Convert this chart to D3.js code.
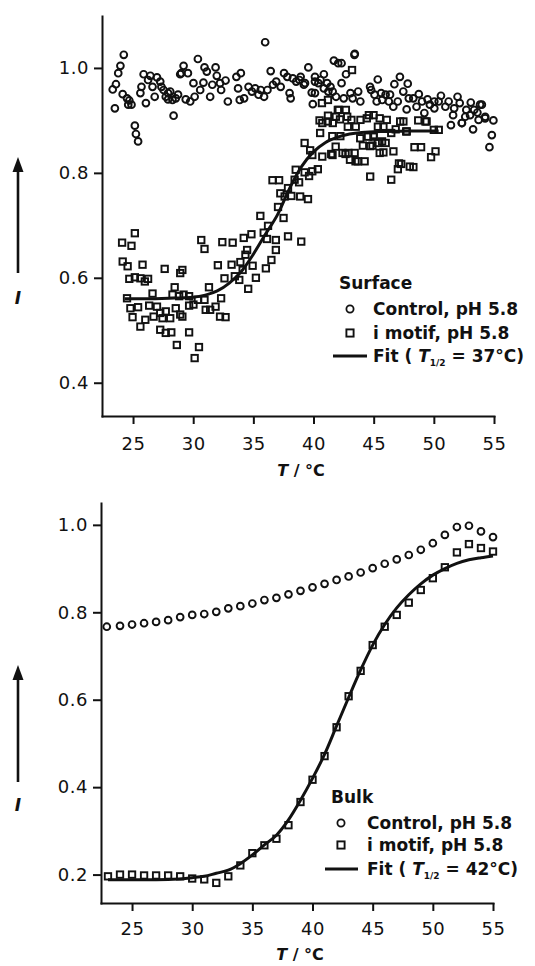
<!DOCTYPE html>
<html>
<head>
<meta charset="utf-8">
<script src="https://cdn.jsdelivr.net/npm/d3@7"></script>
<style>
  body { margin: 0; background: #fff; }
  svg { display: block; }
  text { font-family: "DejaVu Sans", Verdana, sans-serif; fill: #111; }
</style>
</head>
<body>
<svg id="chart" width="535" height="966"></svg>
<script>
// values: [T in °C, I]
const surfaceControl = [
  [24.23,1.025],[23.95,1.004],[23.77,0.99],[23.58,0.969],[23.31,0.959],[23.49,0.923],[24.14,0.95],[24.5,0.942],
  [24.69,0.938],[24.87,0.93],[24.6,0.93],[25.15,0.89],[25.24,0.874],[25.42,0.86],[25.61,0.952],[25.7,0.964],
  [25.88,0.988],[26.07,0.933],[26.25,0.977],[26.44,0.985],[26.62,0.964],[26.8,0.945],[26.99,0.982],[27.26,0.974],
  [27.36,0.964],[27.54,0.958],[27.72,0.945],[27.91,0.952],[28.09,0.955],[27.91,0.94],[28.28,0.939],[28.37,0.909],
  [28.55,0.942],[28.74,0.949],[28.92,0.988],[29.01,0.99],[29.2,1.004],[29.56,0.99],[29.38,0.94],[29.75,0.936],
  [30.02,0.971],[30.12,0.945],[30.39,1.017],[30.58,0.958],[30.85,0.972],[30.94,1.001],[31.13,0.993],[31.41,0.945],
  [31.59,0.968],[31.86,1.001],[31.96,0.985],[32.23,0.971],[32.32,0.958],[32.69,0.976],[32.88,0.936],
  [35.98,1.049],[33.59,0.983],[33.96,0.99],[33.73,0.961],[33.87,0.939],[34.23,0.942],[34.6,0.964],[34.88,0.955],
  [35.15,0.961],[35.43,0.949],[35.61,0.958],[35.89,0.945],[36.17,0.958],[36.44,0.994],[36.63,0.968],[36.9,0.974],
  [37.27,0.964],[37.55,0.99],[38.01,0.952],[38.1,0.942],[37.82,0.983],[38.28,0.98],[38.56,0.974],[38.93,0.983],
  [39.2,0.968],[39.57,1.001],[39.85,0.953],[39.94,0.931],[40.12,0.952],[40.12,0.983],[40.4,0.971],[40.58,0.977],
  [40.86,0.988],[41.13,0.971],[41.41,0.964],[41.69,1.014],[42.05,1.009],[42.33,1.009],[42.7,0.988],[42.33,0.971],
  [41.59,0.955],[43.43,1.027],[43.07,0.952],[43.71,0.955],[38.83,0.977],[39.29,0.971],[40.12,0.974],[40.86,0.961],
  [41.23,0.955],[41.87,0.945],[42.51,0.942],[43.25,0.942],[43.89,0.936],[43.4,1.025],
  [45.34,0.978],[47.18,0.983],[46.72,0.969],[47.83,0.97],[44.79,0.958],[45.07,0.949],[45.62,0.952],[45.99,0.949],
  [46.36,0.949],[47.46,0.955],[47.92,0.942],[48.75,0.95],[49.48,0.94],[50.04,0.936],[50.59,0.947],[51.97,0.945],
  [53.07,0.934],[53.99,0.93],[46.63,0.926],[45.71,0.939],[47.74,0.921],[48.56,0.926],[49.21,0.914],[50.04,0.923],
  [50.96,0.926],[51.6,0.91],[52.15,0.933],[51.42,0.891],[52.61,0.907],[52.34,0.895],[53.26,0.883],[53.62,0.915],
  [54.27,0.907],[44.7,0.964],[45.25,0.936],[46.26,0.936],[47.0,0.936],[48.29,0.942],[49.02,0.936],[49.67,0.93],
  [50.4,0.936],[51.23,0.936],[51.69,0.923],[52.7,0.92],[53.35,0.92],[53.72,0.901],[54.62,0.849],[54.82,0.872],
  [54.95,0.9],[52.32,0.895],[54.26,0.904],[53.01,0.91],[53.84,0.93]
];

const surfaceIMotif = [
  [25.15,0.685],[24.09,0.667],[24.87,0.661],[24.14,0.631],[24.55,0.622],[25.79,0.625],[24.69,0.598],[25.15,0.601],
  [25.61,0.599],[25.98,0.593],[26.25,0.598],[27.63,0.617],[28.92,0.609],[29.1,0.615],[30.67,0.672],[30.94,0.655],
  [32.42,0.668],[32.05,0.624],[32.6,0.599],[24.5,0.561],[24.78,0.542],[25.42,0.544],[24.96,0.525],[25.61,0.507],
  [26.02,0.52],[26.34,0.547],[26.62,0.57],[26.71,0.526],[26.99,0.545],[27.26,0.533],[27.45,0.523],[27.72,0.536],
  [28.09,0.523],[27.26,0.501],[27.72,0.495],[28.18,0.496],[28.64,0.472],[29.66,0.496],[30.48,0.468],[30.12,0.447],
  [28.46,0.582],[28.28,0.568],[28.55,0.542],[28.92,0.53],[29.1,0.526],[29.66,0.565],[30.02,0.549],[30.39,0.558],
  [30.94,0.558],[31.31,0.582],[31.04,0.539],[31.41,0.539],[31.86,0.545],[32.23,0.526],[32.69,0.525],[32.32,0.561],
  [28.83,0.565],[29.2,0.568],[29.66,0.547],
  [33.28,0.667],[34.2,0.676],[34.84,0.683],[34.48,0.653],[34.34,0.644],[33.92,0.63],[33.19,0.625],[33.46,0.603],
  [34.11,0.615],[34.94,0.623],[35.21,0.6],[34.57,0.579],[33.83,0.596],[36.04,0.618],[36.5,0.634],[36.87,0.653],
  [36.87,0.672],[36.22,0.699],[35.58,0.718],[35.86,0.686],[36.13,0.674],[37.88,0.679],[38.98,0.669],[37.05,0.735],
  [37.51,0.714],[37.24,0.761],[37.6,0.755],[37.88,0.771],[38.16,0.756],[38.43,0.787],[38.8,0.782],[38.89,0.755],
  [39.54,0.75],[36.59,0.786],[37.14,0.786],[38.52,0.806],[39.26,0.801],[39.9,0.803],[40.36,0.807],[39.63,0.794],
  [39.9,0.834],[39.26,0.857],[39.72,0.843],[40.73,0.831],[41.47,0.836],[41.84,0.85],[41.56,0.87],[40.55,0.876],
  [40.73,0.895],[41.19,0.898],[42.02,0.92],[42.2,0.902],[42.85,0.888],[42.66,0.836],[43.03,0.825],[43.49,0.822],
  [41.86,0.907],[42.69,0.92],[43.15,0.901],[43.51,0.888],[42.23,0.87],[41.58,0.834],[42.41,0.838],[43.42,0.838],
  [44.25,0.822],[44.71,0.851],[44.43,0.904],[44.99,0.91],[45.35,0.888],[45.81,0.888],[46.09,0.901],[45.35,0.857],
  [46.0,0.857],[45.81,0.839],[46.64,0.841],[46.46,0.876],[46.83,0.883],[47.47,0.898],[47.75,0.879],[47.29,0.817],
  [47.01,0.807],[48.3,0.811],[44.71,0.793],[46.46,0.787],[48.39,0.849],[48.94,0.849],[49.77,0.83],[50.14,0.841],
  [49.4,0.898],[50.41,0.882],[43.88,0.866],[44.53,0.869],[44.99,0.872],
  [43.2,0.996],[40.7,0.933],[41.2,0.939],[42.1,0.92],[42.8,0.907],[40.5,0.9],[41.2,0.909],[41.6,0.895],
  [43.9,0.901],[44.6,0.91],[45.5,0.904],[47.2,0.898],[47.7,0.879],[48.7,0.9],[49.3,0.898],[50.0,0.882],
  [47.1,0.818],[48.0,0.812],[44.1,0.852],[44.9,0.852],[45.5,0.838],[45.0,0.869],[45.7,0.86],[42.9,0.838],[43.7,0.822]
];

const surfaceFit = [
  [24.3,0.56],[26,0.56],[28,0.561],[30,0.563],[31,0.567],[32,0.575],[33,0.59],[34,0.612],[35,0.645],
  [36,0.683],[37,0.72],[38,0.77],[39,0.812],[40,0.84],[41,0.858],[42,0.868],[43,0.874],[44,0.877],
  [46,0.879],[48,0.88],[50.4,0.88]
];

const bulkControl = [
  [22.9,0.767],[24,0.769],[25,0.772],[26,0.775],[27,0.778],[28,0.782],[29,0.789],[30,0.794],[31,0.796],
  [32,0.801],[33,0.809],[34,0.814],[35,0.82],[36,0.828],[37,0.833],[38,0.841],[39,0.849],[40,0.857],
  [41,0.865],[42,0.874],[43,0.882],[44,0.891],[45,0.901],[46,0.911],[47,0.921],[48,0.931],[49,0.943],
  [50,0.958],[51,0.977],[52,0.995],[53,0.998],[54,0.985],[55,0.972]
];

const bulkIMotif = [
  [23,0.196],[24,0.2],[25,0.2],[26,0.198],[27,0.198],[28,0.198],[29,0.196],[30,0.191],[31,0.189],
  [32,0.181],[33,0.196],[34,0.221],[35,0.249],[36,0.267],[37,0.282],[38,0.313],[39,0.366],[40,0.417],
  [41,0.471],[42,0.537],[43,0.608],[44,0.666],[45,0.725],[46,0.767],[47,0.794],[48,0.822],[49,0.851],
  [50,0.878],[51,0.903],[52,0.937],[53,0.956],[54,0.947],[55,0.939]
];

const bulkFit = [
  [23,0.188],[26,0.188],[28,0.189],[30,0.193],[31,0.196],[32,0.203],[33,0.21],[34,0.225],[35,0.245],
  [36,0.268],[37,0.29],[38,0.325],[39,0.37],[40,0.42],[41,0.475],[42,0.54],[43,0.605],[44,0.668],
  [45,0.725],[46,0.772],[47,0.81],[48,0.84],[49,0.865],[50,0.885],[51,0.9],[52,0.912],[53,0.92],
  [54,0.925],[55,0.929]
];

const xTicks = [25, 30, 35, 40, 45, 50, 55];
const surfaceYTicks = [0.4, 0.6, 0.8, 1.0];
const bulkYTicks = [0.2, 0.4, 0.6, 0.8, 1.0];

const svg = d3.select('#chart');

function drawPanel(p) {
  const x = d3.scaleLinear().domain([22.42, 55]).range([p.left, p.right]);
  const y = d3.scaleLinear().domain(p.yDomain).range([p.bottom, p.top]);
  const g = svg.append('g');

  const yAxis = g.append('g')
    .attr('transform', `translate(${p.left},0)`)
    .call(d3.axisLeft(y).tickValues(p.yTicks).tickFormat(d3.format('.1f'))
      .tickSize(8).tickSizeOuter(0).tickPadding(5));
  const xAxis = g.append('g')
    .attr('transform', `translate(0,${p.bottom})`)
    .call(d3.axisBottom(x).tickValues(xTicks).tickFormat(d3.format('d'))
      .tickSize(8).tickSizeOuter(0).tickPadding(p.xPad));

  [yAxis, xAxis].forEach(a => {
    a.select('.domain').attr('stroke', '#111').attr('stroke-width', 2).attr('stroke-linecap', 'square');
    a.selectAll('.tick line').attr('stroke', '#111').attr('stroke-width', 2);
    a.selectAll('.tick text').attr('font-size', 18).attr('fill', '#222')
      .attr('font-family', '"DejaVu Sans", Verdana, sans-serif').attr('letter-spacing', 0.5);
  });

  // control: open circles
  g.append('g').selectAll('circle')
    .data(p.control)
    .enter().append('circle')
    .attr('cx', d => x(d[0]))
    .attr('cy', d => y(d[1]))
    .attr('r', 3.4)
    .attr('fill', 'none')
    .attr('stroke', '#111')
    .attr('stroke-width', 1.9);

  // i motif: open squares
  g.append('g').selectAll('rect')
    .data(p.imotif)
    .enter().append('rect')
    .attr('x', d => x(d[0]) - 3.2)
    .attr('y', d => y(d[1]) - 3.2)
    .attr('width', 6.4)
    .attr('height', 6.4)
    .attr('fill', 'none')
    .attr('stroke', '#111')
    .attr('stroke-width', 1.9);

  const line = d3.line()
    .x(d => x(d[0]))
    .y(d => y(d[1]))
    .curve(d3.curveMonotoneX);
  g.append('path')
    .datum(p.fit)
    .attr('d', line)
    .attr('fill', 'none')
    .attr('stroke', '#111')
    .attr('stroke-width', 3);

  // axis title
  const xt = g.append('text')
    .attr('x', p.titleX).attr('y', p.titleY)
    .attr('text-anchor', 'middle')
    .attr('font-size', 16).attr('font-weight', 'bold');
  xt.append('tspan').attr('font-style', 'italic').text('T');
  xt.append('tspan').text(' / °C');

  // upward arrow + I
  g.append('line')
    .attr('x1', 18).attr('x2', 18)
    .attr('y1', p.arrowTip + 12).attr('y2', p.arrowBase)
    .attr('stroke', '#111').attr('stroke-width', 2.6);
  g.append('path')
    .attr('d', `M18,${p.arrowTip}L12.5,${p.arrowTip + 15}L23.5,${p.arrowTip + 15}Z`)
    .attr('fill', '#111');
  g.append('text')
    .attr('x', 18).attr('y', p.iY)
    .attr('text-anchor', 'middle')
    .attr('font-size', 17).attr('font-weight', 'bold').attr('font-style', 'italic')
    .text('I');

  // legend
  const lg = p.legend;
  g.append('text')
    .attr('x', lg.titleX).attr('y', lg.rows[0] - 26)
    .attr('font-size', 17).attr('font-weight', 'bold')
    .text(lg.title);
  g.append('circle')
    .attr('cx', lg.symX).attr('cy', lg.rows[0] - 6)
    .attr('r', 3.6).attr('fill', 'none').attr('stroke', '#111').attr('stroke-width', 1.8);
  g.append('rect')
    .attr('x', lg.symX - 3.6).attr('y', lg.rows[1] - 9.6)
    .attr('width', 7.2).attr('height', 7.2)
    .attr('fill', 'none').attr('stroke', '#111').attr('stroke-width', 1.9);
  g.append('line')
    .attr('x1', lg.lineX[0]).attr('x2', lg.lineX[1])
    .attr('y1', lg.rows[2] - 6).attr('y2', lg.rows[2] - 6)
    .attr('stroke', '#111').attr('stroke-width', 3);

  const labels = ['Control, pH 5.8', 'i motif, pH 5.8'];
  labels.forEach((t, i) => {
    g.append('text')
      .attr('x', lg.textX).attr('y', lg.rows[i])
      .attr('font-size', 17).attr('font-weight', 'bold')
      .text(t);
  });
  const fitText = g.append('text')
    .attr('x', lg.textX).attr('y', lg.rows[2])
    .attr('font-size', 17).attr('font-weight', 'bold');
  fitText.append('tspan').text('Fit ( ');
  fitText.append('tspan').attr('font-style', 'italic').text('T');
  fitText.append('tspan').attr('font-size', 9).attr('dy', 4).text('1/2');
  fitText.append('tspan').attr('dy', -4).text(` = ${lg.t12}°C)`);
}

drawPanel({
  left: 102, right: 494, top: 16, bottom: 416,
  yDomain: [0.3366, 1.099], yTicks: surfaceYTicks, xPad: 13,
  control: surfaceControl, imotif: surfaceIMotif, fit: surfaceFit,
  titleX: 301, titleY: 476,
  arrowTip: 157, arrowBase: 273, iY: 304,
  legend: { title: 'Surface', titleX: 339, symX: 350, textX: 373, lineX: [333, 367], rows: [315, 339, 362], t12: 37 }
});

drawPanel({
  left: 101, right: 493, top: 503, bottom: 903,
  yDomain: [0.135, 1.05], yTicks: bulkYTicks, xPad: 11,
  control: bulkControl, imotif: bulkIMotif, fit: bulkFit,
  titleX: 300, titleY: 960,
  arrowTip: 665, arrowBase: 782, iY: 811,
  legend: { title: 'Bulk', titleX: 331, symX: 341, textX: 367, lineX: [325, 358], rows: [829, 851, 875], t12: 42 }
});
</script>
</body>
</html>
